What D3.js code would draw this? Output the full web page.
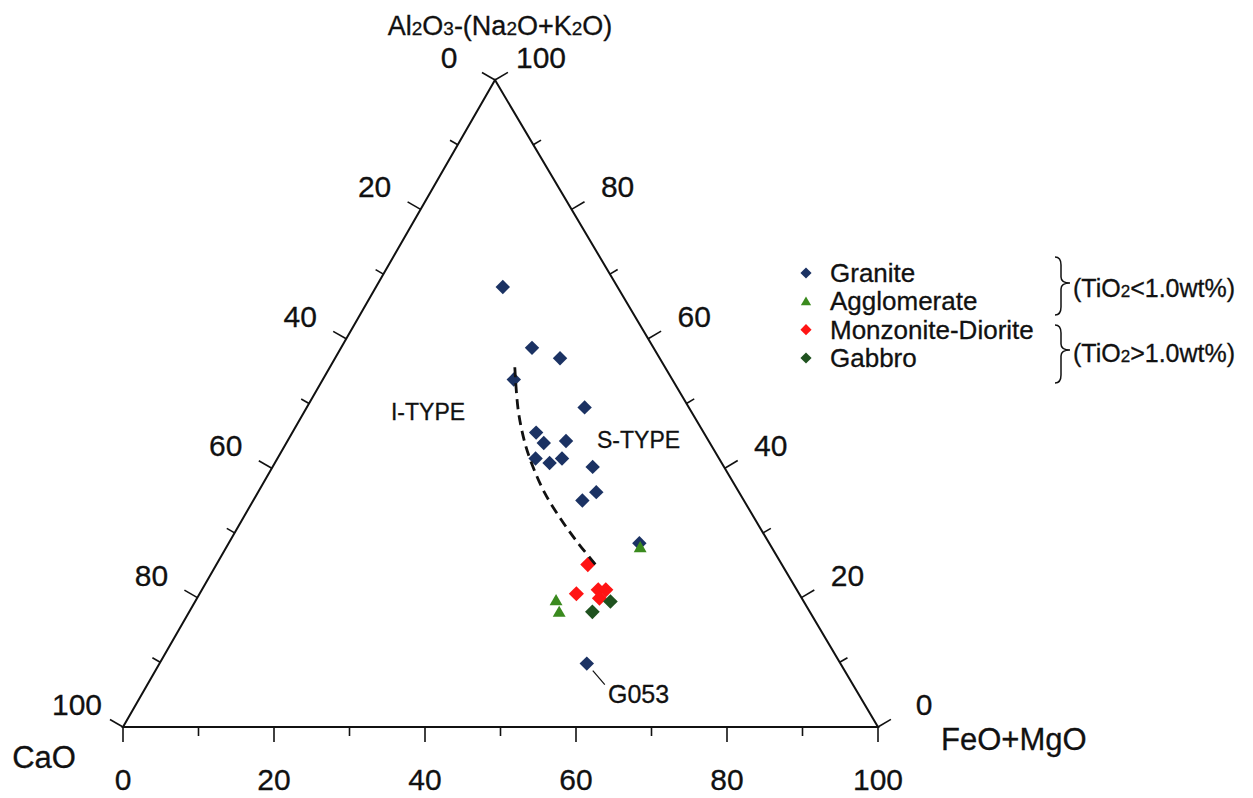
<!DOCTYPE html>
<html><head><meta charset="utf-8">
<script src="https://cdn.jsdelivr.net/npm/d3@7/dist/d3.min.js"></script>
<style>
html,body{margin:0;padding:0;background:#fff;}
svg{display:block;}
text{font-family:"Liberation Sans",Arial,Helvetica,sans-serif;fill:#111;stroke:#111;stroke-width:0.3px;}
</style>
</head><body>
<svg id="c" width="1253" height="798"></svg>
<script>
// Values: [CaO, Al2O3-(Na2O+K2O), FeO+MgO] in %
const granite = [
  [15.2, 68.0, 16.8], [16.1, 58.6, 25.3], [13.2, 57.0, 29.8], [21.0, 53.7, 25.3],
  [13.8, 49.4, 36.8], [22.2, 45.5, 32.3], [22.0, 43.9, 34.1], [18.9, 44.2, 36.9],
  [24.3, 41.5, 34.2], [22.8, 40.8, 36.4], [20.8, 41.5, 37.7], [17.4, 40.2, 42.4],
  [18.9, 36.3, 44.8], [21.4, 35.0, 43.6], [17.2, 28.4, 54.4], [33.6, 9.8, 56.6]
];
const agglomerate = [[17.5, 27.6, 54.9], [32.8, 19.4, 47.8], [33.3, 17.6, 49.1]];
const monzoniteDiorite = [[25.7, 25.1, 49.2], [29.5, 20.6, 49.9], [26.3, 21.2, 52.5], [25.3, 21.2, 53.5], [26.8, 19.9, 53.3]];
const gabbro = [[25.6, 19.4, 55.0], [28.8, 17.8, 53.4]];
const typeBoundary = [
  [19.9, 55.6, 24.5], [22.8, 49.0, 28.2], [24.5, 43.9, 31.6], [25.3, 40.2, 34.5],
  [25.8, 36.1, 38.1], [25.7, 32.0, 42.3], [25.3, 28.4, 46.3], [24.6, 24.7, 50.7]
];
const g053 = [33.6, 9.8, 56.6];
const tickValues = d3.range(0, 101, 10);
const labelValues = [0, 20, 40, 60, 80, 100];
const legendNames = ["Granite", "Agglomerate", "Monzonite-Diorite", "Gabbro"];

const colors = {granite: "#1b3263", agglomerate: "#3a8a1e", monz: "#ff1414", gabbro: "#1f521f"};

const svg = d3.select("#c");
const BL = [123, 727], BR = [878, 727], AP = [495, 80];
const yScale = d3.scaleLinear().domain([0, 100]).range([BL[1], AP[1]]);
const xScale = d3.scaleLinear().domain([0, 100]).range([BL[0], BR[0]]);
const shift = d3.scaleLinear().domain([0, 100]).range([0, AP[0] - BL[0]]);
const proj = d => [xScale(d[2]) + shift(d[1]), yScale(d[1])];

// triangle frame
svg.append("path")
  .attr("d", d3.line()([proj([100,0,0]), proj([0,0,100]), proj([0,100,0])]) + "Z")
  .attr("fill", "none").attr("stroke", "#111").attr("stroke-width", 2);

function norm(v){ const l = Math.hypot(v[0], v[1]); return [v[0]/l, v[1]/l]; }
const nL = norm([(AP[1]-BL[1]), -(AP[0]-BL[0])]);   // outward left
const nR = norm([-(AP[1]-BR[1]), (AP[0]-BR[0])]);   // outward right
const nB = [0, 1];

const axes = [
  {pt: v => [v, 100 - v, 0], n: nL, lab: [-46, -12]},
  {pt: v => [0, v, 100 - v], n: nR, lab: [46, -12]},
  {pt: v => [100 - v, 0, v], n: nB, lab: [0, 63]}
];
const tg = svg.append("g");
axes.forEach(ax => {
  tickValues.forEach(v => {
    const p = proj(ax.pt(v));
    const len = (v % 20 === 0) ? 15 : 9;
    tg.append("line").attr("x1", p[0]).attr("y1", p[1])
      .attr("x2", p[0] + ax.n[0]*len).attr("y2", p[1] + ax.n[1]*len)
      .attr("stroke", "#111").attr("stroke-width", 1.6);
  });
  labelValues.forEach(v => {
    const p = proj(ax.pt(v));
    tg.append("text").attr("x", p[0] + ax.lab[0]).attr("y", p[1] + ax.lab[1])
      .attr("text-anchor", "middle").attr("font-size", 30).text(v);
  });
});

// axis titles
const title = svg.append("text").attr("x", 500).attr("y", 35).attr("text-anchor", "middle").attr("font-size", 27);
[["Al",0],["2",1],["O",0],["3",1],["-(Na",0],["2",1],["O+K",0],["2",1],["O)",0]].forEach(s => {
  title.append("tspan").attr("font-size", s[1] ? 19 : 27).text(s[0]);
});
svg.append("text").attr("x", 44).attr("y", 768).attr("text-anchor", "middle").attr("font-size", 31).text("CaO");
svg.append("text").attr("x", 941).attr("y", 750).attr("font-size", 31).text("FeO+MgO");

// field labels
svg.append("text").attr("x", 428).attr("y", 420).attr("text-anchor", "middle").attr("font-size", 23).text("I-TYPE");
svg.append("text").attr("x", 597).attr("y", 448).attr("font-size", 23).text("S-TYPE");

// markers
const diamond = (size) => d3.symbol().type(d3.symbolSquare).size(size)();
function drawDiamonds(data, color, size){
  svg.append("g").selectAll("path").data(data).join("path")
    .attr("d", diamond(size))
    .attr("transform", d => { const p = proj(d); return `translate(${p[0]},${p[1]}) rotate(45)`; })
    .attr("fill", color);
}
function drawTriangles(data, color, size){
  svg.append("g").selectAll("path").data(data).join("path")
    .attr("d", d3.symbol().type(d3.symbolTriangle).size(size)())
    .attr("transform", d => { const p = proj(d); return `translate(${p[0]},${p[1]})`; })
    .attr("fill", color);
}
drawDiamonds(granite, colors.granite, 104);
drawDiamonds(monzoniteDiorite, colors.monz, 115);
drawDiamonds(gabbro, colors.gabbro, 108);
drawTriangles(agglomerate, colors.agglomerate, 72);

// I/S boundary
svg.append("path")
  .attr("d", d3.line().curve(d3.curveCatmullRom)(typeBoundary.map(proj)))
  .attr("fill", "none").attr("stroke", "#111").attr("stroke-width", 2.8)
  .attr("stroke-dasharray", "10,6");

// G053 label
const gp = proj(g053);
svg.append("line").attr("x1", gp[0] + 6).attr("y1", gp[1] + 7).attr("x2", gp[0] + 18).attr("y2", gp[1] + 21)
  .attr("stroke", "#111").attr("stroke-width", 1.2);
svg.append("text").attr("x", 608).attr("y", 703).attr("font-size", 25).text("G053");

// legend
const lg = svg.append("g");
const legendColors = [colors.granite, colors.agglomerate, colors.monz, colors.gabbro];
const rowY = d3.scaleLinear().domain([0, 3]).range([273, 358]);
legendNames.forEach((name, i) => {
  const y = rowY(i);
  if (i === 1) {
    lg.append("path").attr("d", d3.symbol().type(d3.symbolTriangle).size(46)())
      .attr("transform", `translate(806,${y+1})`).attr("fill", legendColors[i]);
  } else {
    lg.append("path").attr("d", diamond(62))
      .attr("transform", `translate(806,${y}) rotate(45)`).attr("fill", legendColors[i]);
  }
  lg.append("text").attr("x", 830).attr("y", y + 9).attr("font-size", 26).text(name);
});
function brace(y0, y1, ym){
  const x0 = 1055, xv = 1061, xt = 1070;
  return `M${x0},${y0} Q${xv},${y0} ${xv},${y0+8} L${xv},${ym-6} Q${xv},${ym} ${xt},${ym} Q${xv},${ym} ${xv},${ym+6} L${xv},${y1-8} Q${xv},${y1} ${x0},${y1}`;
}
lg.append("path").attr("d", brace(257, 315, 283)).attr("fill", "none").attr("stroke", "#111").attr("stroke-width", 1.5);
lg.append("path").attr("d", brace(325, 383, 350)).attr("fill", "none").attr("stroke", "#111").attr("stroke-width", 1.5);
function tiText(y, sign){
  const t = lg.append("text").attr("x", 1073).attr("y", y).attr("font-size", 25);
  t.append("tspan").text("(TiO");
  t.append("tspan").attr("font-size", 17).text("2");
  t.append("tspan").text(sign + "1.0wt%)");
}
tiText(297, "<");
tiText(362, ">");
</script>
</body></html>
